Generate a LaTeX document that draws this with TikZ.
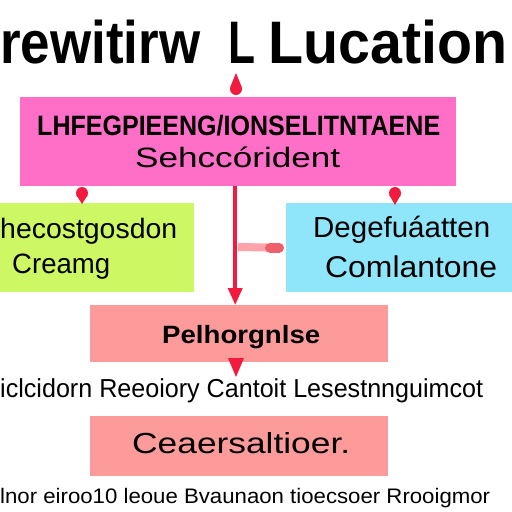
\documentclass[tikz,border=0pt]{standalone}
\usepackage{fontspec}
\setmainfont{Liberation Sans}
\usetikzlibrary{arrows.meta}
\definecolor{pinkfill}{HTML}{FF6EC7}
\definecolor{greenfill}{HTML}{CDF763}
\definecolor{bluefill}{HTML}{8FE6FA}
\definecolor{salmonfill}{HTML}{FD9A9A}
\definecolor{arrowred}{HTML}{F21B3F}
\definecolor{barlight}{HTML}{FFA3AA}
\definecolor{bardark}{HTML}{F0606C}
\newcommand{\fw}[2]{\resizebox{#1}{\height}{#2}}
\begin{document}
\begin{tikzpicture}[x=1pt,y=-1pt,
  boxshape/.style={draw=none,inner sep=0pt,anchor=north west,rectangle},
  txt/.style={inner sep=0pt,anchor=base west,text=black},
  redline/.style={draw=arrowred,line width=3.5pt,-{Triangle[length=17pt,width=14pt]}},
  dropfill/.style={fill=arrowred}
]
\useasboundingbox[fill=white] (0,0) rectangle (512,512);

% title
\node[txt,font=\fontsize{60}{60}\selectfont\bfseries] (t1) at (0,63) {\fw{200pt}{rewitirw}};
\node[txt,font=\fontsize{60}{60}\selectfont\bfseries] (t2) at (228,63) {\fw{27pt}{L}};
\node[txt,font=\fontsize{60}{60}\selectfont\bfseries] (t3) at (268,63) {\fw{239pt}{Lucation}};

% boxes
\node[boxshape,fill=pinkfill,minimum width=436pt,minimum height=89pt] (pinkb) at (20,97) {};
\node[boxshape,fill=greenfill,minimum width=194pt,minimum height=89pt] (greenb) at (0,203) {};
\node[boxshape,fill=bluefill,minimum width=226pt,minimum height=89pt] (blueb) at (286,203) {};
\node[boxshape,fill=salmonfill,minimum width=298pt,minimum height=57pt] (midb) at (90,305) {};
\node[boxshape,fill=salmonfill,minimum width=298pt,minimum height=60pt] (botb) at (90,416) {};

% box texts
\node[txt,font=\fontsize{28}{28}\selectfont\bfseries] (p1) at (37,135) {\fw{403pt}{LHFEGPIEENG/IONSELITNTAENE}};
\node[txt,font=\fontsize{28}{28}\selectfont] (p2) at (135,167) {\fw{205pt}{Sehccórident}};
\node[txt,font=\fontsize{28}{28}\selectfont] (g1) at (0,238) {\fw{177pt}{hecostgosdon}};
\node[txt,font=\fontsize{28}{28}\selectfont] (g2) at (12,273) {\fw{98pt}{Creamg}};
\node[txt,font=\fontsize{29}{29}\selectfont] (b1) at (313,237) {\fw{177pt}{Degefuáatten}};
\node[txt,font=\fontsize{30}{30}\selectfont] (b2) at (325,277) {\fw{172pt}{Comlantone}};
\node[txt,font=\fontsize{25}{25}\selectfont\bfseries] (m1) at (162,343) {\fw{158pt}{Pelhorgnlse}};
\node[txt,font=\fontsize{26}{26}\selectfont] (r1) at (0,397) {\fw{483pt}{iclcidorn Reeoiory Cantoit Lesestnnguimcot}};
\node[txt,font=\fontsize{29}{29}\selectfont] (c1) at (132,453) {\fw{218pt}{Ceaersaltioer.}};
\node[txt,font=\fontsize{21}{21}\selectfont] (r2) at (0,503) {\fw{490pt}{lnor eiroo10 leoue Bvaunaon tioecsoer Rrooigmor}};

% connectors
\draw[redline] ([xshift=-3pt]pinkb.south) -- ([xshift=-4pt]midb.north);
\coordinate (hstart) at (238,247);
\draw[draw=barlight,line width=8pt] (hstart) -- ([xshift=-8pt]blueb.west);
\draw[draw=bardark,line width=10pt,line cap=round] ([xshift=-16pt]blueb.west) -- ([xshift=-7pt]blueb.west);

% droplet arrowheads
\fill[dropfill] (236,89) circle (6pt);
\fill[dropfill] (230.3,87) -- (236,73) -- (241.7,87) -- cycle;
\fill[dropfill] (82,193) circle (6pt);
\fill[dropfill] (76.3,195) -- (82,204) -- (87.7,195) -- cycle;
\fill[dropfill] (395,193) circle (6pt);
\fill[dropfill] (389.3,195) -- (395,205) -- (400.7,195) -- cycle;
\fill[dropfill] (228,358) -- (244,358) -- (236,377) -- cycle;
\end{tikzpicture}
\end{document}
